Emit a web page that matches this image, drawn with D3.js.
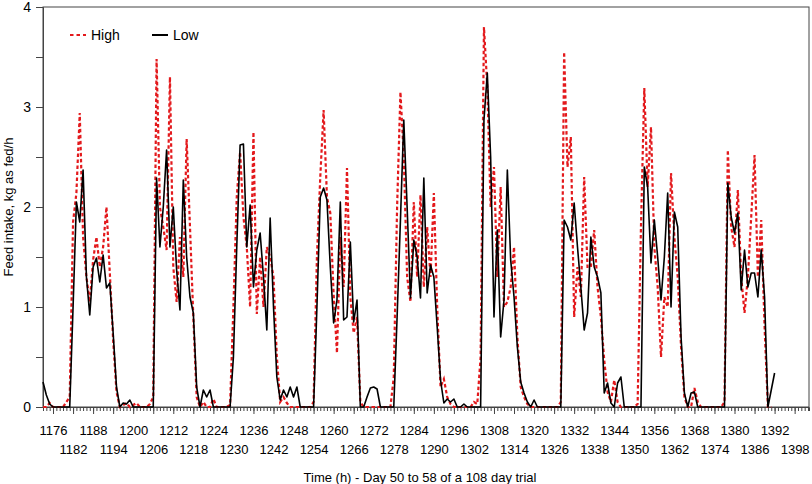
<!DOCTYPE html>
<html>
<head>
<meta charset="utf-8">
<script src="https://cdnjs.cloudflare.com/ajax/libs/d3/7.8.5/d3.min.js"></script>
<style>
  body { margin: 0; background: #fff; }
  text { font-family: "Liberation Sans", Arial, Helvetica, sans-serif; }
</style>
</head>
<body>
<div id="chart"></div>
<script>
// first hour of each series, values are hourly after that
var startHour = 1173;

// High group, kg as fed/h (1173 .. 1391)
var highVals = [
  0, 0, 0.04, 0, 0, 0, 0, 0.05, 0.1, 1.85, 2.14, 2.94,
  1.7, 1.3, 1.05, 1.47, 1.7, 1.4, 1.6, 2.0, 1.34, 0.67, 0.15, 0,
  0.02, 0.04, 0, 0.02, 0.04, 0, 0, 0, 0.03, 0.1, 3.48, 2.0,
  1.8, 1.57, 3.3, 1.4, 1.05, 1.7, 1.3, 2.68, 1.8, 0.9, 0.1, 0,
  0.05, 0, 0, 0.08, 0, 0, 0, 0, 0.02, 1.0, 2.1, 2.55,
  1.9, 1.6, 1.0, 2.75, 0.93, 1.5, 1.0, 1.6, 1.5, 1.3, 0.5, 0.05,
  0.1, 0.04, 0, 0, 0, 0, 0, 0, 0, 0.05, 1.5, 2.3,
  2.97, 2.1, 1.94, 1.13, 0.54, 1.7, 1.2, 2.39, 1.1, 0.74, 0.9, 0.05,
  0, 0, 0, 0, 0, 0, 0, 0, 0, 0.3, 2.0, 3.15,
  2.5, 1.3, 1.05, 2.05, 1.3, 2.12, 1.2, 1.8, 1.3, 2.14, 1.0, 0.2,
  0.28, 0.1, 0.03, 0, 0, 0, 0, 0, 0, 0.05, 0.03, 0.5,
  3.8, 3.2, 2.0, 2.4, 1.3, 2.2, 1.0, 1.05, 1.2, 1.6, 0.7, 0.2,
  0.1, 0.03, 0, 0, 0, 0, 0, 0, 0, 0, 0, 0.05,
  3.55, 2.4, 2.7, 0.9, 1.4, 1.1, 2.3, 1.4, 1.4, 1.77, 1.2, 0.9,
  0.47, 0.15, 0.05, 0.27, 0.05, 0, 0, 0, 0, 0, 0.03, 1.8,
  3.19, 2.2, 2.8, 1.6, 1.2, 0.5, 1.1, 1.0, 2.34, 1.7, 1.3, 0.6,
  0.1, 0, 0, 0.19, 0.05, 0, 0, 0, 0, 0, 0, 0,
  0.05, 2.57, 1.8, 1.6, 2.17, 1.3, 0.94, 1.3, 1.9, 2.52, 1.3, 1.87,
  0.8, 0, 0
];

// Low group, kg as fed/h (1173 .. 1392)
var lowVals = [
  0.25, 0.12, 0.03, 0, 0, 0, 0, 0, 0, 1.0, 2.05, 1.85,
  2.37, 1.3, 0.92, 1.4, 1.49, 1.25, 1.52, 1.19, 1.24, 0.74, 0.2, 0,
  0.04, 0.03, 0.07, 0, 0, 0, 0, 0, 0, 0, 2.29, 1.6,
  2.0, 2.57, 1.6, 2.0, 1.37, 0.97, 2.27, 1.5, 1.1, 0.94, 0.2, 0,
  0.17, 0.1, 0.17, 0, 0, 0, 0, 0, 0, 0.5, 1.6, 2.62,
  2.63, 1.6, 2.02, 1.2, 1.57, 1.74, 1.3, 0.77, 1.89, 1.0, 0.3, 0.07,
  0.17, 0.1, 0.2, 0.1, 0.2, 0, 0, 0, 0, 0, 1.0, 2.1,
  2.19, 2.07, 1.4, 0.84, 1.07, 2.05, 0.87, 0.9, 1.65, 0.85, 1.07, 0,
  0, 0.1, 0.19, 0.2, 0.18, 0, 0, 0, 0, 0, 0.9, 1.87,
  2.87, 2.0, 1.09, 1.67, 1.5, 1.09, 2.29, 1.14, 1.42, 1.3, 0.8, 0.27,
  0.04, 0.08, 0.05, 0.08, 0, 0, 0.03, 0, 0, 0, 0, 0,
  2.87, 3.34, 2.5, 0.9, 1.77, 0.7, 1.07, 2.37, 1.47, 1.1, 0.6, 0.25,
  0.14, 0.05, 0, 0.07, 0, 0, 0, 0, 0, 0, 0, 0,
  1.87, 1.8, 1.67, 2.04, 1.6, 1.2, 0.77, 0.94, 1.7, 1.4, 1.3, 1.14,
  0.14, 0.24, 0.04, 0, 0.24, 0.3, 0, 0, 0, 0, 0, 0,
  2.4, 2.2, 1.44, 1.87, 1.5, 1.07, 1.5, 2.14, 1.0, 1.95, 1.8, 0.7,
  0.14, 0, 0.14, 0.15, 0, 0, 0, 0, 0, 0, 0, 0,
  0, 2.24, 1.9, 1.74, 1.94, 1.17, 1.57, 1.2, 1.34, 1.34, 1.1, 1.57,
  1.1, 0, 0.17, 0.34
];

var xTickLabels = d3.range(1176, 1399, 6);
var yTickLabels = [0, 1, 2, 3, 4];

var seriesNames = ['High', 'Low'];
var seriesColors = ['#e3191c', '#000'];

var W = 812, H = 484;
var margin = { top: 7, right: 3, bottom: 77, left: 43 };
var width = W - margin.left - margin.right;
var height = H - margin.top - margin.bottom;

var svg = d3.select('#chart').append('svg')
  .attr('width', W)
  .attr('height', H);

var g = svg.append('g')
  .attr('transform', 'translate(' + margin.left + ',' + margin.top + ')');

var xScale = d3.scaleLinear()
  .domain([1173, 1402.3])
  .range([0, width]);

var yScale = d3.scaleLinear()
  .domain([0, 4])
  .range([height, 0]);

function toPoints(vals) {
  return vals.map(function(v, i) { return { h: startHour + i, v: v }; });
}

var line = d3.line()
  .x(function(d) { return xScale(d.h); })
  .y(function(d) { return yScale(d.v); });

// frame
g.append('rect')
  .attr('width', width)
  .attr('height', height)
  .attr('fill', 'none')
  .attr('stroke', '#444')
  .attr('stroke-width', 1);

// y axis
var yAxis = d3.axisLeft(yScale)
  .tickValues(d3.range(0, 4.01, 0.5))
  .tickSize(7)
  .tickFormat(function(d) { return yTickLabels.indexOf(d) >= 0 ? d : ''; });

var yG = g.append('g').call(yAxis);
yG.select('.domain').attr('stroke', '#444');
yG.selectAll('.tick line').attr('stroke', '#444');
yG.selectAll('.tick text')
  .attr('font-size', 14)
  .attr('fill', '#000')
  .attr('x', -12);

// x axis, every hour minor, every 6 h labelled
var xMinor = d3.axisBottom(xScale)
  .tickValues(d3.range(1173, 1403, 1))
  .tickSize(4)
  .tickFormat('');
var xMinorG = g.append('g')
  .attr('transform', 'translate(0,' + height + ')')
  .call(xMinor);
xMinorG.select('.domain').attr('stroke', '#444');
xMinorG.selectAll('.tick line').attr('stroke', '#444');

var xMajor = d3.axisBottom(xScale)
  .tickValues(xTickLabels)
  .tickSize(7)
  .tickFormat(d3.format('d'));
var xMajorG = g.append('g')
  .attr('transform', 'translate(0,' + height + ')')
  .call(xMajor);
xMajorG.select('.domain').remove();
xMajorG.selectAll('.tick line').attr('stroke', '#444');
xMajorG.selectAll('.tick text')
  .attr('font-size', 13)
  .attr('fill', '#000')
  .attr('y', function(d, i) { return i % 2 === 0 ? 19 : 38; });

// lines
g.append('path')
  .datum(toPoints(highVals))
  .attr('d', line)
  .attr('fill', 'none')
  .attr('stroke', seriesColors[0])
  .attr('stroke-width', 2.2)
  .attr('stroke-dasharray', '3.5,2.5');

g.append('path')
  .datum(toPoints(lowVals))
  .attr('d', line)
  .attr('fill', 'none')
  .attr('stroke', seriesColors[1])
  .attr('stroke-width', 1.6)
  .attr('stroke-linejoin', 'round');

// legend
var legend = svg.append('g');
var legendX = [70, 152];
seriesNames.forEach(function(name, i) {
  var lg = legend.append('g').attr('transform', 'translate(' + legendX[i] + ',35)');
  lg.append('line')
    .attr('x1', 0).attr('x2', 16)
    .attr('stroke', seriesColors[i])
    .attr('stroke-width', i === 0 ? 2.2 : 2)
    .attr('stroke-dasharray', i === 0 ? '3.5,3' : null);
  lg.append('text')
    .attr('x', 21)
    .attr('y', 5)
    .attr('font-size', 14)
    .text(name);
});

// axis titles
svg.append('text')
  .attr('transform', 'translate(13,' + (margin.top + height / 2) + ') rotate(-90)')
  .attr('text-anchor', 'middle')
  .attr('font-size', 13)
  .text('Feed intake, kg as fed/h');

svg.append('text')
  .attr('x', 420)
  .attr('y', 482)
  .attr('text-anchor', 'middle')
  .attr('font-size', 13)
  .text('Time (h) - Day 50 to 58 of a 108 day trial');
</script>
</body>
</html>
